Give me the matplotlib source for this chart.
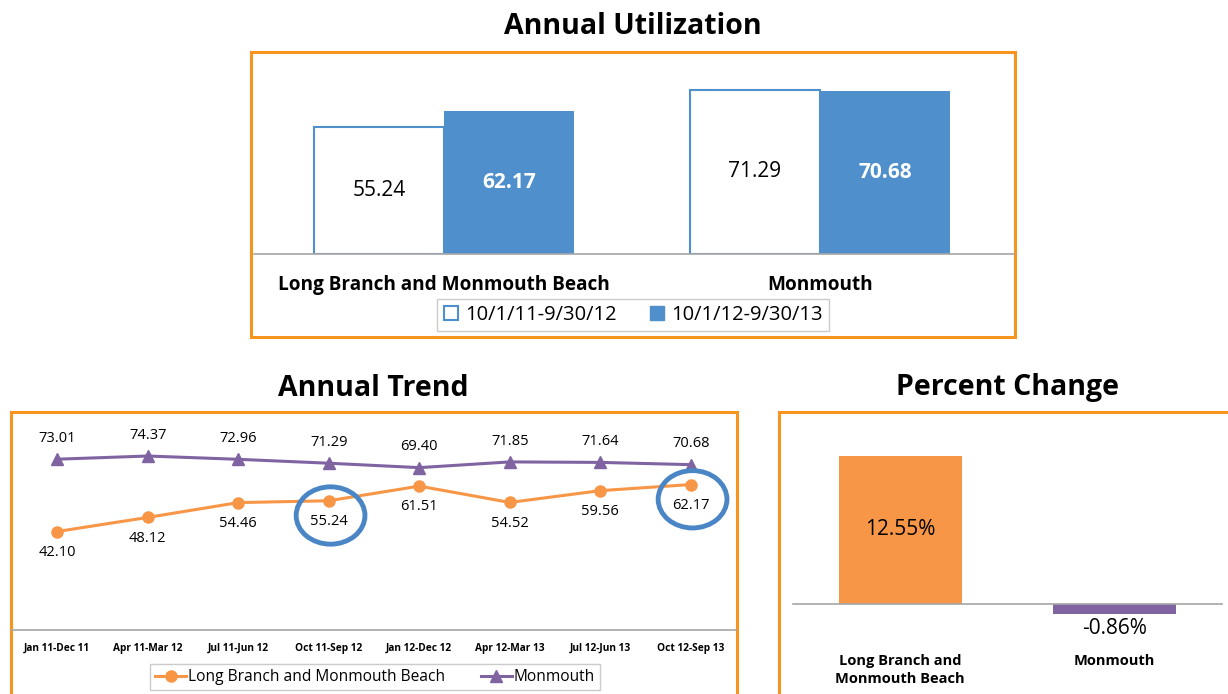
import matplotlib
matplotlib.use('Agg')
import matplotlib.pyplot as plt
from matplotlib.patches import Rectangle, Ellipse
from matplotlib.lines import Line2D
import numpy as np

# Dados
groups = ["Long Branch and Monmouth Beach", "Monmouth"]
periods = ["10/1/11-9/30/12", "10/1/12-9/30/13"]
util_prev = [55.24, 71.29]
util_curr = [62.17, 70.68]

quarters = ["Jan 11-Dec 11", "Apr 11-Mar 12", "Jul 11-Jun 12", "Oct 11-Sep 12",
            "Jan 12-Dec 12", "Apr 12-Mar 13", "Jul 12-Jun 13", "Oct 12-Sep 13"]
trend_lbmb = [42.10, 48.12, 54.46, 55.24, 61.51, 54.52, 59.56, 62.17]
trend_monmouth = [73.01, 74.37, 72.96, 71.29, 69.40, 71.85, 71.64, 70.68]

change_labels = ["Long Branch and\nMonmouth Beach", "Monmouth"]
change_values = [12.55, -0.86]

# Cores
ORANGE = "#F79646"
BORDER = "#F7941D"
PURPLE = "#8064A2"
BLUE = "#4F8FCC"
RING = "#4A86C5"
GRAY = "#A6A6A6"

FONT = ['Open Sans', 'DejaVu Sans']
plt.rcParams['font.family'] = FONT

W, H = 1228, 694
fig = plt.figure(figsize=(W / 100, H / 100), dpi=100)


def box(x0, y0, x1, y1):
    # converte coordenadas em pixels (origem no topo) para fração da figura
    return [x0 / W, 1 - y1 / H, (x1 - x0) / W, (y1 - y0) / H]


def border(x0, y0, x1, y1):
    r = Rectangle((x0 / W, 1 - y1 / H), (x1 - x0) / W, (y1 - y0) / H,
                  transform=fig.transFigure, fill=False, edgecolor=BORDER,
                  linewidth=2.2, zorder=0)
    fig.add_artist(r)


def clean(ax):
    for s in ['top', 'right', 'left']:
        ax.spines[s].set_visible(False)
    ax.spines['bottom'].set_color(GRAY)
    ax.spines['bottom'].set_linewidth(1.2)
    ax.set_yticks([])
    ax.tick_params(axis='x', length=0)
    ax.patch.set_alpha(0)


# ---------- Annual Utilization ----------
border(251, 52, 1015, 337)
fig.text(633 / W, 1 - 27 / H, "Annual Utilization", ha='center', va='center',
         fontsize=20.5, fontweight='bold')

ax1 = fig.add_axes(box(254, 60, 1014, 254))
clean(ax1)
x = np.arange(len(groups))
bw = 0.346
b_prev = ax1.bar(x - bw / 2, util_prev, bw, facecolor='white', edgecolor=BLUE,
                 linewidth=1.5, label=periods[0])
b_curr = ax1.bar(x + bw / 2, util_curr, bw, color=BLUE, label=periods[1])
ax1.set_xlim(-0.505, 1.516)
ax1.set_ylim(0, 84.3)
ax1.set_xticks(x)
ax1.set_xticklabels(groups, fontsize=13.7, fontweight='bold')
ax1.tick_params(axis='x', pad=15)
for xi, v in zip(x, util_prev):
    ax1.text(xi - bw / 2, v / 2, f"{v:.2f}", ha='center', va='center',
             fontsize=15, color='black')
for xi, v in zip(x, util_curr):
    ax1.text(xi + bw / 2, v / 2, f"{v:.2f}", ha='center', va='center',
             fontsize=15, color='white', fontweight='bold')

handles1 = [Line2D([], [], linestyle='none', marker='s', markersize=10,
                   markerfacecolor='white', markeredgecolor=BLUE, markeredgewidth=1.5),
            Line2D([], [], linestyle='none', marker='s', markersize=10,
                   markerfacecolor=BLUE, markeredgecolor=BLUE)]
leg1 = fig.legend(handles1, periods, loc='center', bbox_to_anchor=(633 / W, 1 - 315 / H),
                  ncol=2, fancybox=False, edgecolor='#BFBFBF', handlelength=0.8,
                  handletextpad=0.3, columnspacing=1.6, borderpad=0.3,
                  prop={'size': 14.5})
leg1.get_frame().set_linewidth(1)

# ---------- Annual Trend ----------
border(11, 412, 737, 700)
fig.text(373 / W, 1 - 388 / H, "Annual Trend", ha='center', va='center',
         fontsize=20.5, fontweight='bold')

ax2 = fig.add_axes(box(12, 415, 736, 630))
clean(ax2)
xq = np.arange(len(quarters))
l1, = ax2.plot(xq, trend_lbmb, color=ORANGE, linewidth=2.2, marker='o',
               markersize=8, label="Long Branch and Monmouth Beach")
l2, = ax2.plot(xq, trend_monmouth, color=PURPLE, linewidth=2.2, marker='^',
               markersize=9, label="Monmouth")
ax2.set_xlim(-0.5, 7.5)
ax2.set_ylim(0, 91.9)
ax2.set_xticks(xq)
ax2.set_xticklabels(quarters, fontsize=7.3, fontweight='bold')
ax2.tick_params(axis='x', pad=9)
for xi, v in zip(xq, trend_monmouth):
    ax2.annotate(f"{v:.2f}", (xi, v), xytext=(0, 15), textcoords='offset points',
                 ha='center', va='center', fontsize=10.5)
for xi, v in zip(xq, trend_lbmb):
    ax2.annotate(f"{v:.2f}", (xi, v), xytext=(0, -15), textcoords='offset points',
                 ha='center', va='center', fontsize=10.5)

# destaque nos períodos comparados
for xi in [3, 7]:
    yv = trend_lbmb[xi]
    ax2.add_patch(Ellipse((xi + 0.02, yv - 6.3), 0.76, 24.5, fill=False,
                          edgecolor=RING, linewidth=3.5, zorder=5))

leg2 = fig.legend([l1, l2], [l1.get_label(), l2.get_label()], loc='center',
                  bbox_to_anchor=(375 / W, 1 - 677 / H), ncol=2, fancybox=False,
                  edgecolor='#BFBFBF', handlelength=2.0, handletextpad=0.1,
                  columnspacing=2.3, borderpad=0.35,
                  prop={'size': 11.2})
leg2.get_frame().set_linewidth(1)

# ---------- Percent Change ----------
border(779, 412, 1240, 700)
fig.text(1007 / W, 1 - 388 / H, "Percent Change", ha='center', va='center',
         fontsize=20.5, fontweight='bold')

ax3 = fig.add_axes(box(793, 420, 1222, 604))
clean(ax3)
ax3.spines['bottom'].set_visible(False)
xc = np.arange(len(change_values))
ax3.bar(xc, change_values, 0.575, color=[ORANGE, PURPLE], clip_on=False)
ax3.axhline(0, color=GRAY, linewidth=1.2, clip_on=False)
ax3.set_xlim(-0.5, 1.5)
ax3.set_ylim(0, 15.6)
ax3.set_xticks([])
ax3.text(xc[0], change_values[0] / 2, f"{change_values[0]:.2f}%", ha='center',
         va='center', fontsize=15)
ax3.annotate(f"{change_values[1]:.2f}%", (xc[1], change_values[1]),
             xytext=(0, -10), textcoords='offset points', ha='center', va='center',
             fontsize=15, annotation_clip=False)
for xi, lab in zip(xc, change_labels):
    ax3.annotate(lab, (xi, 0), xytext=(0, -36), textcoords='offset points',
                 ha='center', va='top', fontsize=10.5, fontweight='bold',
                 linespacing=1.35, annotation_clip=False)

fig.savefig("out.png", dpi=100, facecolor='white')
